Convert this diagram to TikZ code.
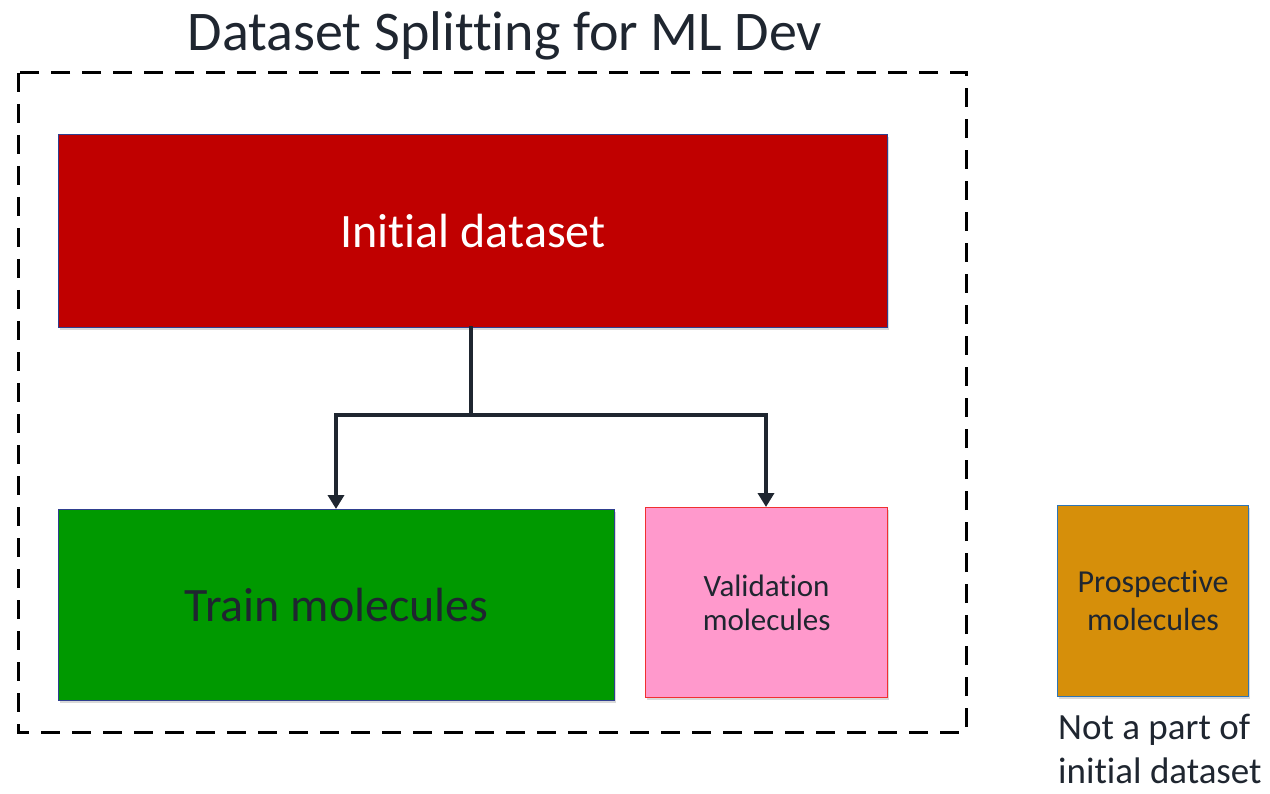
\documentclass[tikz,border=0pt]{standalone}
\usepackage{fontspec}
\setmainfont{Carlito}[Ligatures=NoCommon]
\usetikzlibrary{arrows.meta,shadows}
\definecolor{txt}{HTML}{1F2630}
\definecolor{redfill}{HTML}{C00000}
\definecolor{greenfill}{HTML}{009900}
\definecolor{pinkfill}{HTML}{FF99CC}
\definecolor{orangefill}{HTML}{D68F0A}
\definecolor{navyedge}{HTML}{2F3F8F}
\definecolor{rededge}{HTML}{F03030}
\definecolor{blueedge}{HTML}{2E75B6}
\tikzset{
  box/.style={draw, line width=1.2pt, inner sep=0pt, anchor=north west,
    drop shadow={shadow xshift=1.5pt, shadow yshift=-2pt, opacity=0.25, fill=black!60}},
  conn/.style={draw=txt, line width=3.5pt, line cap=rect},
  arr/.style={conn, -{Triangle[width=16pt,length=14pt]}, line cap=butt}
}
\begin{document}
\begin{tikzpicture}[x=1pt,y=-1pt]
\useasboundingbox (0,0) rectangle (1270,794);
% title
\node[text=txt, font=\fontsize{56}{66}\selectfont] (title) at (505,36) {Dataset Splitting for ML Dev};
% dashed frame
\draw[line width=3pt, dash pattern=on 19pt off 12pt] (18,73) rectangle (966,732);
% boxes
\node[box, draw=navyedge, fill=redfill, minimum width=829pt, minimum height=193pt,
  text=white, font=\fontsize{48}{56}\selectfont] (init) at (58,134) {Initial dataset};
\node[box, draw=navyedge, fill=greenfill, minimum width=556pt, minimum height=191pt,
  text=txt, font=\fontsize{48}{56}\selectfont] (train) at (58,509) {Train molecules};
\node[box, draw=rededge, fill=pinkfill, minimum width=242pt, minimum height=190pt,
  text=txt, align=center, font=\fontsize{31}{34}\selectfont] (val) at (645,507) {Validation\\molecules};
\node[box, draw=blueedge, fill=orangefill, minimum width=191pt, minimum height=191pt,
  text=txt, align=center, font=\fontsize{32}{38}\selectfont] (pro) at (1057,505) {Prospective\\molecules};
\node[anchor=north west, text=txt, align=left, inner sep=0pt,
  font=\fontsize{37}{44}\selectfont] (note) at (1058,714) {Not a part of\\initial dataset};
% connectors
\coordinate (split) at (471,415);
\draw[conn] (init.south -| split) -- (split);
\draw[arr] (split) -| (train.north -| 336,0);
\draw[arr] (split) -| (val.north -| 766,0);
\end{tikzpicture}
\end{document}
